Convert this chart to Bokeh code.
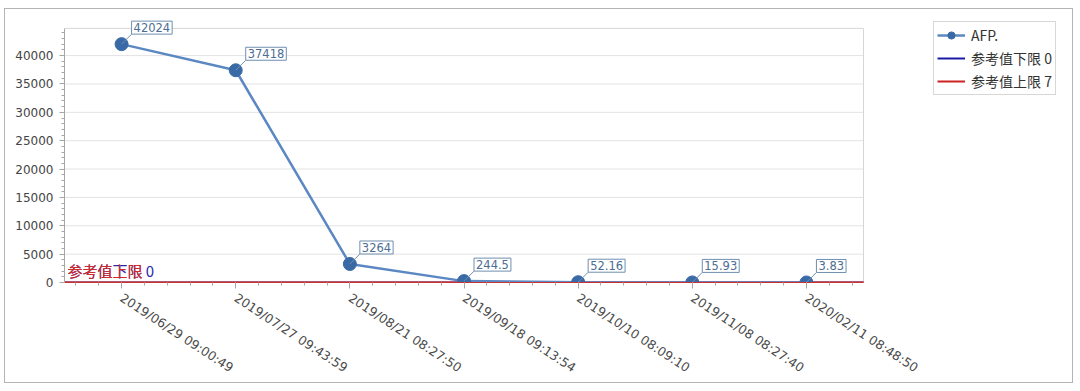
import math
from bokeh.plotting import figure
from bokeh.models import (ColumnDataSource, FixedTicker, Legend, LegendItem)
from bokeh.core.properties import value
from bokeh.embed import file_html
from bokeh.resources import INLINE

# ---- data ----
dates = ["2019/06/29 09:00:49", "2019/07/27 09:43:59", "2019/08/21 08:27:50",
         "2019/09/18 09:13:54", "2019/10/10 08:09:10", "2019/11/08 08:27:40",
         "2020/02/11 08:48:50"]
afp = [42024, 37418, 3264, 244.5, 52.16, 15.93, 3.83]
afp_labels = ["42024", "37418", "3264", "244.5", "52.16", "15.93", "3.83"]
ref_low = 0
ref_high = 7
y_ticks = [0, 5000, 10000, 15000, 20000, 25000, 30000, 35000, 40000]
y_top = 44800          # top of the visible plot box
n = len(dates)

# ---- layout (pixels) ----
FIG_W, FIG_H = 1069, 375
B_LEFT, B_TOP, B_RIGHT, B_BOTTOM = 59, 3, 4, 100
frame_w = FIG_W - B_LEFT - B_RIGHT
frame_h = FIG_H - B_TOP - B_BOTTOM
box_w = 799            # pixel width of the visible plot box
box_h = 256            # pixel height of the visible plot box
x_end = n * frame_w / box_w
y_end = y_top * frame_h / box_h

xs = [i + 0.5 for i in range(n)]
src = ColumnDataSource(dict(x=xs, y=afp, lab=afp_labels))

p = figure(width=FIG_W, height=FIG_H, x_range=(0, x_end), y_range=(0, y_end),
           output_backend="svg", toolbar_location=None,
           min_border_left=B_LEFT, min_border_top=B_TOP, min_border_right=B_RIGHT,
           min_border_bottom=B_BOTTOM, margin=(8, 0, 0, 4),
           background_fill_color="white", border_fill_color="white")
p.styles = {"border": "1px solid #b4b4b4"}
p.outline_line_color = None
p.xgrid.grid_line_color = None
p.ygrid.grid_line_color = None

# grid lines and box border (limited to the visible plot box)
p.segment(x0=[0] * (len(y_ticks) - 1), x1=[n] * (len(y_ticks) - 1),
          y0=y_ticks[1:], y1=y_ticks[1:], line_color="#e3e3e3", line_width=1)
p.line(x=[0, n, n], y=[y_top, y_top, 0], line_color="#d6d6d6", line_width=1)

# y axis
p.yaxis.ticker = FixedTicker(ticks=y_ticks,
                             minor_ticks=list(range(0, y_top, 1000)))
p.yaxis.bounds = (0, y_top)
p.yaxis.axis_line_color = "#a6a6a6"
p.yaxis.major_tick_line_color = "#a6a6a6"
p.yaxis.minor_tick_line_color = "#a6a6a6"
p.yaxis.major_tick_in = 0
p.yaxis.major_tick_out = 5
p.yaxis.minor_tick_in = 0
p.yaxis.minor_tick_out = 3
p.yaxis.major_label_text_font = "DejaVu Sans"
p.yaxis.major_label_text_font_size = "12px"
p.yaxis.major_label_text_color = "#444444"
p.yaxis.major_label_standoff = 6

# x axis
p.xaxis.ticker = FixedTicker(ticks=xs,
                             minor_ticks=[0.1 + 0.2 * k for k in range(5 * n)])
p.xaxis.bounds = (0, n)
p.xaxis.major_label_overrides = {x: d for x, d in zip(xs, dates)}
p.xaxis.major_label_orientation = -0.58
p.xaxis.axis_line_color = "#c83232"
p.xaxis.major_tick_line_color = "#a6a6a6"
p.xaxis.minor_tick_line_color = "#a6a6a6"
p.xaxis.major_tick_in = 0
p.xaxis.major_tick_out = 6
p.xaxis.minor_tick_in = 0
p.xaxis.minor_tick_out = 3
p.xaxis.major_label_text_font = "DejaVu Sans"
p.xaxis.major_label_text_font_size = "12.5px"
p.xaxis.major_label_text_color = "#4a4a4a"
p.xaxis.major_label_standoff = 8

# reference lines
low_r = p.line(x=[0, n], y=[ref_low, ref_low], line_color="#1a1aa6", line_width=2)
high_r = p.line(x=[0, n], y=[ref_high, ref_high], line_color="#cc2222", line_width=2)

# main series
line_r = p.line("x", "y", source=src, line_color="#5b88c2", line_width=2.5)
mark_r = p.scatter("x", "y", source=src, size=13, fill_color="#3a6aa6",
                   line_color="#3a6aa6")

# connectors and labels
p.ray("x", "y", source=src, length=14, angle=math.pi / 4, length_units="screen",
      line_color="#6f8fb0", line_width=1)
p.text("x", "y", text="lab", source=src, x_offset=10, y_offset=-10,
       anchor="bottom_left", padding=2,
       text_font=value("DejaVu Sans"), text_font_size="11.5px",
       text_color="#4d6d92", background_fill_color="white",
       border_line_color="#6f8fb0", border_line_width=1)

# reference line captions (overlapping, as in the original)
p.text(x=[0], y=[0], text=["参考值下限 0"], x_offset=3, y_offset=-2,
       text_baseline="bottom", text_align="left",
       text_font=value("Noto Sans CJK SC"), text_font_size="15px",
       text_color="#2a2ab0")
p.text(x=[0], y=[0], text=["参考值上限"], x_offset=3, y_offset=-2,
       text_baseline="bottom", text_align="left",
       text_font=value("Noto Sans CJK SC"), text_font_size="15px",
       text_color="#d12a2a")

# legend placed to the right of the plot box
leg_left_px = 869
leg_bottom_px = 187
legend = Legend(items=[
    LegendItem(label="AFP.", renderers=[line_r, mark_r]),
    LegendItem(label="参考值下限 0", renderers=[low_r]),
    LegendItem(label="参考值上限 7", renderers=[high_r]),
], location=(leg_left_px, leg_bottom_px))
legend.border_line_color = "#b0b0b0"
legend.border_line_width = 1
legend.background_fill_alpha = 1
legend.label_text_font = "Noto Sans CJK SC"
legend.label_text_font_size = "14px"
legend.label_text_color = "#333333"
legend.glyph_width = 28
legend.glyph_height = 18
legend.spacing = 3
legend.padding = 3
legend.margin = 0
legend.label_standoff = 6
legend.label_height = 20
p.add_layout(legend, "center")

open("out.html", "w").write(file_html(p, INLINE))
